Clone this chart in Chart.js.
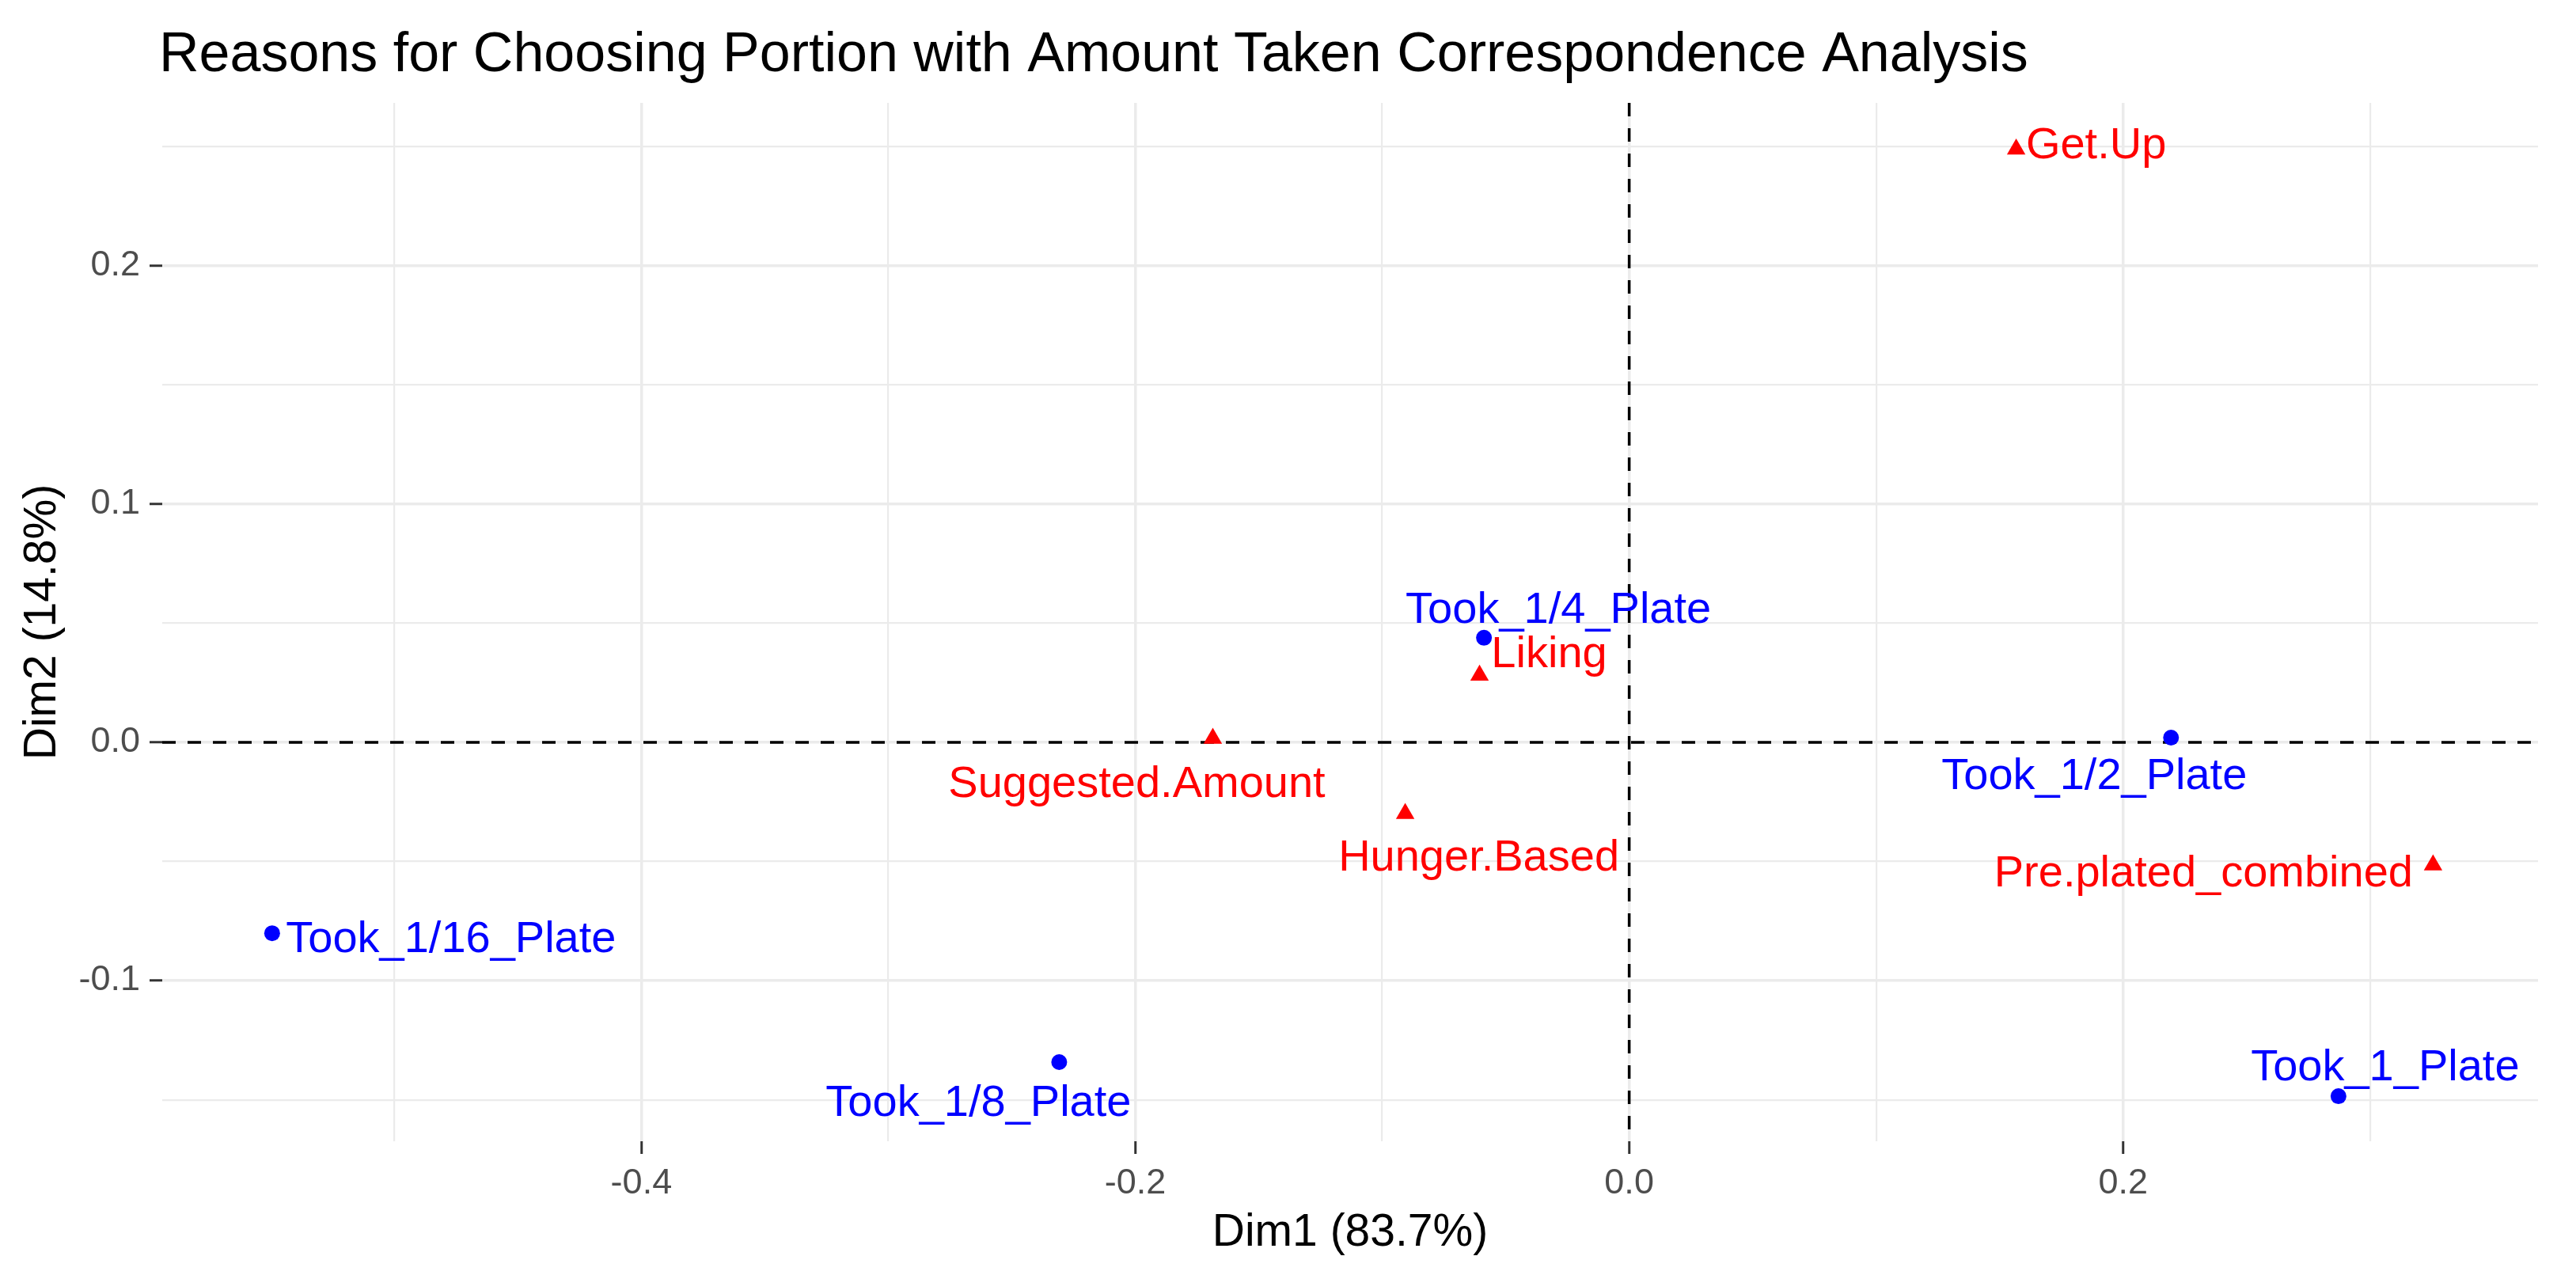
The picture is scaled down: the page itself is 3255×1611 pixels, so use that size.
<!DOCTYPE html>
<html>
<head>
<meta charset="utf-8">
<title>Reasons for Choosing Portion with Amount Taken Correspondence Analysis</title>
<script src="https://cdn.jsdelivr.net/npm/chart.js@4.4.1/dist/chart.umd.min.js"></script>
<style>
  html, body { margin: 0; padding: 0; background: #ffffff; }
  #caChart { display: block; }
</style>
</head>
<body>
<canvas id="caChart" width="3255" height="1611"></canvas>
<script>
// row points (amount taken)
const rowLabels = ['Took_1/4_Plate', 'Took_1/2_Plate', 'Took_1/16_Plate', 'Took_1/8_Plate', 'Took_1_Plate'];
const rowDim1 = [-0.0588, 0.2194, -0.5495, -0.2308, 0.2872];
const rowDim2 = [0.0439, 0.0020, -0.0801, -0.1342, -0.1485];

// column points (reasons)
const colLabels = ['Get.Up', 'Liking', 'Suggested.Amount', 'Hunger.Based', 'Pre.plated_combined'];
const colDim1 = [0.1567, -0.0606, -0.1686, -0.0907, 0.3255];
const colDim2 = [0.2490, 0.0282, 0.0017, -0.0299, -0.0515];

// axis ticks
const xMajorTicks = [-0.4, -0.2, 0.0, 0.2];
const xMinorTicks = [-0.5, -0.3, -0.1, 0.1, 0.3];
const yMajorTicks = [-0.1, 0.0, 0.1, 0.2];
const yMinorTicks = [-0.15, -0.05, 0.05, 0.15, 0.25];

const titleText = 'Reasons for Choosing Portion with Amount Taken Correspondence Analysis';
const xTitle = 'Dim1 (83.7%)';
const yTitle = 'Dim2 (14.8%)';

// repelled label placement, pixels from the point (text centre, baseline)
const rowLabelOffsets = [[94, -19], [-97, 65], [226, 24], [-102, 68], [59, -20]];
const colLabelOffsets = [[101, 12], [88, -10], [-96, 74], [93, 72], [-290, 27]];

const FONT = '"Liberation Sans", Arial, sans-serif';

function isMajor(v, list) {
  return list.some(t => Math.abs(t - v) < 1e-9);
}

//dashed reference lines through the origin
const originLines = {
  id: 'originLines',
  beforeDatasetsDraw(chart) {
    const { ctx, chartArea: { left, right, top, bottom }, scales: { x, y } } = chart;
    const x0 = x.getPixelForValue(0);
    const y0 = y.getPixelForValue(0);
    ctx.save();
    ctx.strokeStyle = '#000000';
    ctx.lineWidth = 3.5;
    ctx.setLineDash([17, 15]);
    ctx.beginPath();
    ctx.moveTo(left, y0);
    ctx.lineTo(right, y0);
    ctx.stroke();
    ctx.beginPath();
    ctx.moveTo(x0, top);
    ctx.lineTo(x0, bottom);
    ctx.stroke();
    ctx.restore();
  }
};

// point labels + title
const pointLabels = {
  id: 'pointLabels',
  afterDatasetsDraw(chart) {
    const { ctx } = chart;
    const sets = [
      { labels: rowLabels, offsets: rowLabelOffsets, color: '#0000FF' },
      { labels: colLabels, offsets: colLabelOffsets, color: '#FF0000' }
    ];
    ctx.save();
    ctx.font = '56px ' + FONT;
    ctx.textAlign = 'center';
    ctx.textBaseline = 'alphabetic';
    sets.forEach((s, i) => {
      const meta = chart.getDatasetMeta(i);
      ctx.fillStyle = s.color;
      meta.data.forEach((pt, j) => {
        ctx.fillText(s.labels[j], pt.x + s.offsets[j][0], pt.y + s.offsets[j][1]);
      });
    });
    ctx.restore();
  },
  afterDraw(chart) {
    const { ctx } = chart;
    ctx.save();
    ctx.font = '70px ' + FONT;
    ctx.fillStyle = '#000000';
    ctx.textAlign = 'left';
    ctx.textBaseline = 'alphabetic';
    ctx.fillText(titleText, 201, 90);
    ctx.restore();
  }
};

function gridOpts(majorList) {
  return {
    color: '#EBEBEB',
    lineWidth: c => isMajor(c.tick.value, majorList) ? 3.5 : 2.2,
    tickColor: c => isMajor(c.tick.value, majorList) ? '#333333' : 'rgba(0,0,0,0)',
    tickLength: 16,
    tickWidth: 3,
    drawTicks: true
  };
}

new Chart(document.getElementById('caChart'), {
  type: 'scatter',
  data: {
    datasets: [{
      label: 'rows',
      data: rowDim1.map((v, i) => ({ x: v, y: rowDim2[i] })),
      backgroundColor: '#0000FF',
      borderColor: '#0000FF',
      borderWidth: 0,
      pointStyle: 'circle',
      pointRadius: 10
    }, {
      label: 'columns',
      data: colDim1.map((v, i) => ({ x: v, y: colDim2[i] })),
      backgroundColor: '#FF0000',
      borderColor: '#FF0000',
      borderWidth: 0,
      pointStyle: 'triangle',
      pointRadius: 13.5
    }]
  },
  options: {
    responsive: false,
    devicePixelRatio: 1,
    animation: false,
    layout: { padding: { left: 0, top: 130, right: 48, bottom: 0 } },
    plugins: {
      legend: { display: false },
      tooltip: { enabled: false },
      title: { display: false }
    },
    scales: {
      x: {
        type: 'linear',
        min: -0.594,
        max: 0.368,
        afterFit: s => { s.height = 169; },
        afterBuildTicks: s => {
          s.ticks = xMajorTicks.concat(xMinorTicks).sort((a, b) => a - b).map(v => ({ value: v }));
        },
        grid: gridOpts(xMajorTicks),
        border: { display: false },
        ticks: {
          autoSkip: false,
          maxRotation: 0,
          padding: 11,
          color: '#4D4D4D',
          font: { family: FONT, size: 45 },
          callback: v => isMajor(v, xMajorTicks) ? v.toFixed(1) : ''
        },
        title: {
          display: true,
          text: xTitle,
          color: '#000000',
          font: { family: FONT, size: 57 },
          padding: { top: 0, bottom: 19 }
        }
      },
      y: {
        type: 'linear',
        min: -0.1674,
        max: 0.2684,
        afterFit: s => { s.width = 205; },
        afterBuildTicks: s => {
          s.ticks = yMajorTicks.concat(yMinorTicks).sort((a, b) => a - b).map(v => ({ value: v }));
        },
        grid: gridOpts(yMajorTicks),
        border: { display: false },
        ticks: {
          autoSkip: false,
          padding: 12,
          color: '#4D4D4D',
          font: { family: FONT, size: 45 },
          callback: v => isMajor(v, yMajorTicks) ? v.toFixed(1) : ''
        },
        title: {
          display: true,
          text: yTitle,
          color: '#000000',
          font: { family: FONT, size: 57 },
          padding: { top: 20, bottom: 0 }
        }
      }
    }
  },
  plugins: [originLines, pointLabels]
});
</script>
</body>
</html>
